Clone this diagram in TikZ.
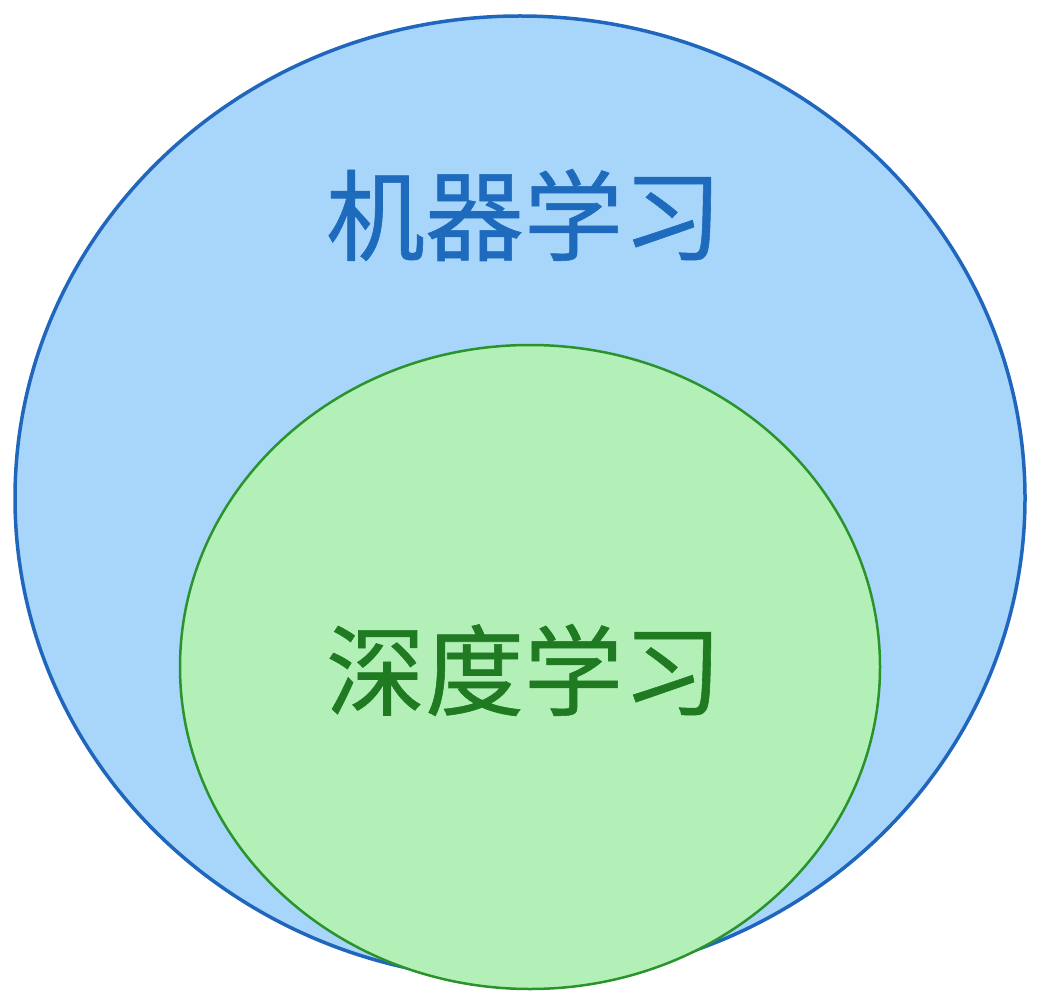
\documentclass[tikz,border=0pt]{standalone}
\usepackage{fontspec}
\newfontfamily\cjk[FakeBold=0.6]{Noto Sans CJK SC}
\definecolor{outerfill}{HTML}{A8D6FB}
\definecolor{outerline}{HTML}{1F66BC}
\definecolor{innerfill}{HTML}{B3F0B7}
\definecolor{innerline}{HTML}{2A932C}
\definecolor{outertext}{HTML}{1E6BBE}
\definecolor{innertext}{HTML}{1F7A22}
\tikzset{
  outerset/.style={fill=outerfill, draw=outerline, line width=3.5pt},
  innerset/.style={fill=innerfill, draw=innerline, line width=2.5pt},
  label/.style={font=\cjk\fontsize{99}{110}\selectfont, inner sep=0pt}
}
\begin{document}
\begin{tikzpicture}[x=1pt,y=-1pt]
\useasboundingbox (0,0) rectangle (1041,1008);
\fill[white] (0,0) rectangle (1041,1008);
\draw[outerset] (520,498) ellipse [x radius=505, y radius=482];
\draw[innerset] (530,667) ellipse [x radius=350, y radius=322];
\node[label, text=outertext] (ml) at (524,215) {机器学习};
\node[label, text=innertext] (dl) at (524,670) {深度学习};
\end{tikzpicture}
\end{document}
